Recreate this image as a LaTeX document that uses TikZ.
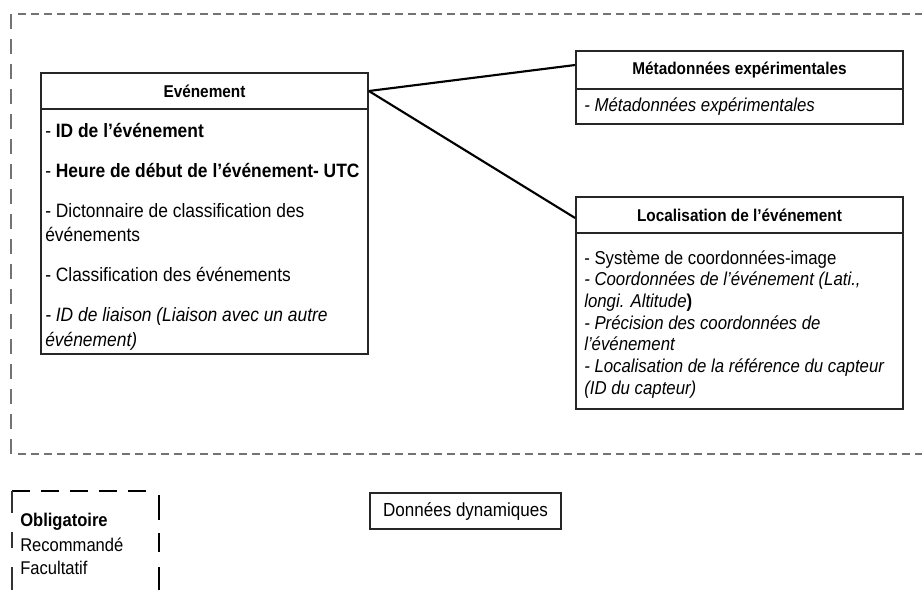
\documentclass[tikz,border=0pt]{standalone}
\usepackage{fontspec}
\setmainfont{Liberation Sans}[FakeStretch=0.9]
\usetikzlibrary{calc}
\newlength\pxu
\setlength\pxu{0.75pt}
\begin{document}
\begin{tikzpicture}[x=0.75pt,y=-0.75pt,
  framedash/.style={draw=black!55, line width=1.1pt, dash pattern=on 8\pxu off 5\pxu},
  frameside/.style={draw=black!55, line width=1.1pt, dash pattern=on 15\pxu off 10\pxu},
  cls/.style={draw=black!85, line width=1.3pt, rectangle, inner sep=0pt, minimum width=327\pxu},
  head/.style={cls, font=\fontsize{12.8}{14}\selectfont\bfseries},
  body/.style={anchor=north west, align=left, inner sep=0pt, font=\fontsize{14}{16.3}\selectfont},
  link/.style={draw=black, line width=1.6pt},
  legthin/.style={draw=black!80, line width=0.8pt},
  legthick/.style={draw=black, line width=2pt},
  legtext/.style={anchor=west, inner sep=0pt, font=\fontsize{13.8}{15}\selectfont},
]
\useasboundingbox (0,0) rectangle (922,597);

% outer dashed frame of the dynamic data
\draw[framedash] (18,14) -- (922,14);
\draw[frameside] (11,14) -- (11,454);
\draw[framedash] (18,454) -- (922,454);

% Evenement class
\node[head, minimum height=36\pxu] (evh) at (204.5,91) {Evénement};
\node[cls, minimum height=245\pxu] (evb) at (204.5,231.5) {};
\node[body, font=\fontsize{14.5}{18.4}\selectfont] (evt) at (45,123) {%
  - \textbf{ID de l’événement}\\[11.6pt]
  - \textbf{Heure de début de l’événement- UTC}\\[11.6pt]
  - Dictonnaire de classification des\\
  événements\\[11.6pt]
  - Classification des événements\\[11.6pt]
  \textit{- ID de liaison (Liaison avec un autre}\\
  \textit{événement)}};

% experimental metadata class
\node[head, minimum height=38\pxu] (meh) at (739.5,70) {Métadonnées expérimentales};
\node[cls, minimum height=35\pxu] (meb) at (739.5,106.5) {};
\node[body, anchor=west] (met) at (584,107) {\textit{- Métadonnées expérimentales}};

% event location class
\node[head, minimum height=36\pxu] (loh) at (739.5,215) {Localisation de l’événement};
\node[cls, minimum height=176\pxu] (lob) at (739.5,321) {};
\node[body] (lot) at (584,250) {%
  - Système de coordonnées-image\\
  \textit{- Coordonnées de l’événement (Lati.,}\\
  \textit{longi. Altitude}\textbf{)}\\
  \textit{- Précision des coordonnées de}\\
  \textit{l’événement}\\
  \textit{- Localisation de la référence du capteur}\\
  \textit{(ID du capteur)}};

% associations
\draw[link] (evh.east) -- ($(meh.west)+(0,-5)$);
\draw[link] (evh.east) -- ($(loh.west)+(0,3)$);

% legend
\draw[legthick, dash pattern=on 18\pxu off 11\pxu] (12,491) -- (154,491);
\draw[legthin] (12,491) -- (12,513);
\draw[legthin] (12,532) -- (12,548);
\draw[legthin] (12,567) -- (12,590);
\draw[legthick] (159,495) -- (159,520);
\draw[legthick] (159,533) -- (159,552);
\draw[legthick] (159,567) -- (159,590);
\node[legtext, font=\fontsize{13.8}{15}\selectfont\bfseries] (lg1) at (20,522) {Obligatoire};
\node[legtext] (lg2) at (20,545) {Recommandé};
\node[legtext] (lg3) at (20,568) {Facultatif};

\node[draw=black!85, line width=0.9pt, minimum width=191\pxu, minimum height=36\pxu, inner sep=0pt,
      font=\fontsize{14.2}{15}\selectfont] (dyn) at (465.5,511) {Données dynamiques};
\end{tikzpicture}
\end{document}
